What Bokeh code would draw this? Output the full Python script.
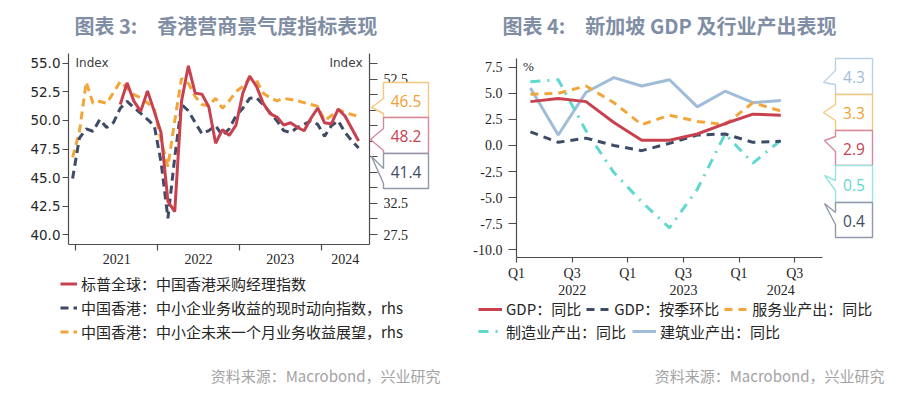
import numpy as np
from bokeh.plotting import figure
from bokeh.models import Range1d, LinearAxis, FixedTicker, PrintfTickFormatter, Legend, LegendItem
from bokeh.layouts import row, column
from bokeh.core.properties import value
from bokeh.embed import file_html
from bokeh.resources import INLINE

NAN = float("nan")

# ---------------- chart 3 data (monthly, Dec-2020 .. Jun-2024) ----------------
hk_title = "图表 3:\u3000香港营商景气度指标表现"
hk_months = (["2020-12"] + [f"{y}-{m:02d}" for y in (2021, 2022, 2023) for m in range(1, 13)]
             + [f"2024-{m:02d}" for m in range(1, 7)])
hk_pmi = [NAN, NAN, NAN, NAN, NAN, NAN, NAN,
          51.4, 53.3, 51.7, 50.8, 52.6, 50.8,
          48.9, 42.9, 42.0, 51.7, 54.8, 52.4, 52.3, 51.2, 48.0, 49.2, 48.7, 49.6,
          52.4, 53.9, 53.0, 51.5, 50.6, 50.3, 49.6, 49.8, 49.4, 49.1, 50.2, 51.1,
          49.8, 49.7, 51.0, 50.4, 49.3, 48.2]
hk_sme_current = [36.5, 43.0, 44.5, 44.1, 46.0, 44.7, 45.5, 47.8, 48.9, 47.9, 47.0, 46.0, 45.0,
                  39.1, 30.1, 39.9, 48.4, 47.4, 45.5, 43.7, 44.2, 45.0, 43.4, 44.5, 46.6,
                  47.8, 49.4, 49.5, 48.4, 47.1, 45.8, 44.2, 43.9, 44.7, 45.2, 45.8, 45.2,
                  43.3, 45.0, 45.8, 43.9, 42.6, 41.4]
hk_sme_outlook = [39.9, 44.0, 52.0, 48.6, 48.9, 48.6, 50.3, 52.1, 51.0, 50.0, 49.5, 48.7, 47.6,
                  42.6, 38.4, 45.8, 52.6, 51.8, 49.7, 48.4, 48.2, 49.4, 47.8, 49.0, 50.5,
                  51.3, 52.6, 52.3, 50.2, 49.5, 49.0, 49.4, 49.2, 49.0, 48.7, 48.4, 48.1,
                  45.8, 46.6, 47.6, 47.1, 46.8, 46.5]
hk_legend = ["标普全球：中国香港采购经理指数",
             "中国香港：中小企业务收益的现时动向指数，rhs",
             "中国香港：中小企未来一个月业务收益展望，rhs"]
hk_lhs_ticks = [40.0, 42.5, 45.0, 47.5, 50.0, 52.5, 55.0]
hk_rhs_ticks = [27.5, 30.0, 32.5, 35.0, 37.5, 40.0, 42.5, 45.0, 47.5, 50.0, 52.5, 55.0]
hk_rhs_labelled = [27.5, 32.5, 52.5]
hk_years = ["2021", "2022", "2023", "2024"]
hk_unit = "Index"

# ---------------- chart 4 data (quarterly, 2022Q1 .. 2024Q2) ----------------
sg_title = "图表 4:\u3000新加坡 GDP 及行业产出表现"
sg_quarters = ["2022Q1", "2022Q2", "2022Q3", "2022Q4", "2023Q1", "2023Q2",
               "2023Q3", "2023Q4", "2024Q1", "2024Q2"]
sg_gdp_yoy = [4.2, 4.5, 4.2, 2.2, 0.5, 0.5, 1.1, 2.1, 3.0, 2.9]
sg_gdp_qoq = [1.3, 0.3, 0.7, 0.0, -0.5, 0.2, 1.0, 1.1, 0.3, 0.4]
sg_services = [4.9, 5.0, 5.7, 4.1, 2.0, 2.9, 2.3, 2.0, 4.1, 3.3]
sg_manufacturing = [6.1, 6.3, 1.4, -2.6, -5.4, -7.9, -4.2, 1.1, -1.7, 0.5]
sg_construction = [5.5, 1.0, 5.1, 6.5, 5.7, 6.3, 3.7, 5.2, 4.1, 4.3]
sg_legend = ["GDP：同比", "GDP：按季环比", "服务业产出：同比", "制造业产出：同比", "建筑业产出：同比"]
sg_y_ticks = [-10.0, -7.5, -5.0, -2.5, 0.0, 2.5, 5.0, 7.5]
sg_half_labels = ["Q1", "Q3", "Q1", "Q3", "Q1", "Q3"]
sg_years = ["2022", "2023", "2024"]
sg_unit = "%"

source_text = "资料来源：Macrobond，兴业研究"

# ---------------- styles ----------------
RED, NAVY, ORANGE, CYAN, LBLUE = "#c8414f", "#3e4b66", "#f2a63a", "#5fd8cf", "#9fbcd9"
AXIS, TEXT, TITLE, GREY = "#4d4d4d", "#262626", "#7f8ea4", "#a3a3a3"
SERIF, SANS, CJK, NUM = "Liberation Serif", "DejaVu Sans", "Noto Sans CJK SC", "Open Sans"
W, H = 897, 398
TOP_B, BOT_B = 53, 141          # shared top / bottom borders of both charts


def style_axis(ax, font, size, tick_out, standoff):
    ax.axis_line_color = AXIS
    ax.axis_line_width = 1.2
    ax.major_tick_line_color = AXIS
    ax.major_tick_line_width = 1.2
    ax.major_tick_out = tick_out
    ax.major_tick_in = 0
    ax.minor_tick_line_color = None
    ax.major_label_standoff = standoff
    ax.major_label_text_font = font
    ax.major_label_text_font_size = size
    ax.major_label_text_color = TEXT


# ================= chart 3 (frame 68..369 x 53..244) =================
hk_x = np.arange(len(hk_months))
X3_END = 43.6
p3 = figure(width=453, height=TOP_B + 191 + BOT_B, x_range=Range1d(-0.6, X3_END),
            y_range=Range1d(39.123, 55.877),
            min_border_left=68, min_border_right=84, min_border_top=TOP_B, min_border_bottom=BOT_B,
            x_axis_type=None, y_axis_type=None, toolbar_location=None, output_backend="svg",
            outline_line_color=None, background_fill_color="white", border_fill_color="white")
p3.extra_y_ranges = {"rhs": Range1d(25.892, 56.608)}

hk_style = [dict(color=RED, dash="solid"), dict(color=NAVY, dash="8 5"), dict(color=ORANGE, dash="8 5")]
p3.line(hk_x, np.array(hk_sme_outlook), y_range_name="rhs", line_color=ORANGE,
        line_width=3, line_dash="8 5")
p3.line(hk_x, np.array(hk_sme_current), y_range_name="rhs", line_color=NAVY,
        line_width=3, line_dash="8 5")
p3.line(hk_x, np.array(hk_pmi), line_color=RED, line_width=3)

yl = LinearAxis(ticker=FixedTicker(ticks=hk_lhs_ticks), formatter=PrintfTickFormatter(format="%.1f"))
style_axis(yl, SANS, "13.5px", 6, 2)
p3.add_layout(yl, "left")

yr = LinearAxis(y_range_name="rhs", ticker=FixedTicker(ticks=hk_rhs_ticks),
                major_label_overrides={t: (f"{t:.1f}" if t in hk_rhs_labelled else "") for t in hk_rhs_ticks})
style_axis(yr, SERIF, "14px", 8, 6)
p3.add_layout(yr, "right")

year_bounds = [hk_months.index(f"{y}-01") - 0.5 for y in hk_years]
year_mid = [(a + b) / 2 for a, b in zip(year_bounds, year_bounds[1:] + [X3_END])]
xb = LinearAxis(ticker=FixedTicker(ticks=year_mid, minor_ticks=year_bounds),
                major_label_overrides=dict(zip(year_mid, hk_years)))
style_axis(xb, SERIF, "14px", 6, 3)
xb.major_tick_line_color = None
xb.minor_tick_line_color = AXIS
xb.minor_tick_line_width = 1.2
xb.minor_tick_out = 6
xb.minor_tick_in = 0
p3.add_layout(xb, "below")

# ================= chart 4 (frame 516..822 x 58..257) =================
sg_x = np.arange(len(sg_quarters))
X4_END = 10.5
P4_SHIFT = 5
p4 = figure(width=W - 453, height=TOP_B + 199 + BOT_B, x_range=Range1d(-0.5, X4_END),
            y_range=Range1d(-10.74, 8.334),
            min_border_left=63, min_border_right=75, min_border_top=TOP_B, min_border_bottom=BOT_B,
            x_axis_type=None, y_axis_type=None, toolbar_location=None, output_backend="svg",
            outline_line_color=None, background_fill_color="white", border_fill_color="white",
            margin=(P4_SHIFT, 0, 0, 0))

sg_series = [sg_gdp_yoy, sg_gdp_qoq, sg_services, sg_manufacturing, sg_construction]
sg_style = [dict(color=RED, dash="solid"), dict(color=NAVY, dash="8 6"), dict(color=ORANGE, dash="8 6"),
            dict(color=CYAN, dash="10 7 2 7"), dict(color=LBLUE, dash="solid")]
for k in (4, 3, 2, 1, 0):
    p4.line(sg_x, sg_series[k], line_color=sg_style[k]["color"], line_width=3,
            line_dash=sg_style[k]["dash"])

y4 = LinearAxis(ticker=FixedTicker(ticks=sg_y_ticks), formatter=PrintfTickFormatter(format="%.1f"))
style_axis(y4, SERIF, "14px", 8, 6)
p4.add_layout(y4, "left")

half_bounds = [i - 0.5 for i in range(0, 2 * len(sg_half_labels), 2)]
xq = LinearAxis(ticker=FixedTicker(ticks=half_bounds),
                major_label_overrides=dict(zip(half_bounds, sg_half_labels)))
style_axis(xq, SERIF, "14px", 5, 3)
p4.add_layout(xq, "below")

yb = [sg_quarters.index(f"{y}Q1") - 0.5 for y in sg_years]
y_mid = [(a + b) / 2 for a, b in zip(yb, yb[1:] + [X4_END])]
xy = LinearAxis(ticker=FixedTicker(ticks=y_mid), major_label_overrides=dict(zip(y_mid, sg_years)))
style_axis(xy, SERIF, "14px", 0, 1)
xy.axis_line_color = None
xy.major_tick_line_color = None
p4.add_layout(xy, "below")

# ================= overlay: titles, legends, notes, end-value callouts (page pixels) =================
ov = figure(width=W, height=H, x_range=Range1d(0, W), y_range=Range1d(H, 0), min_border=0,
            x_axis_type=None, y_axis_type=None, toolbar_location=None, output_backend="svg",
            outline_line_color=None, background_fill_color=None, border_fill_color=None,
            margin=(-H, 0, 0, 0))
ov.extra_y_ranges = {"key": Range1d(1e6, 2e6)}   # legend-key renderers sit outside the view

ov.text(x=[74, 502], y=[25, 25], text=[hk_title, sg_title], text_font=value(CJK),
        text_font_size="20px", text_font_style="bold", text_color=TITLE,
        text_align="left", text_baseline="middle")
ov.text(x=[440, 884], y=[375, 375], text=[source_text, source_text], text_font=value(CJK),
        text_font_size="15px", text_color=GREY, text_align="right", text_baseline="middle")
ov.text(x=[75], y=[62.5], text=[hk_unit], text_font=value(SANS), text_font_size="12px",
        text_color="#404040", text_align="left", text_baseline="middle")
ov.text(x=[362], y=[62.5], text=[hk_unit], text_font=value(SANS), text_font_size="12px",
        text_color="#404040", text_align="right", text_baseline="middle")
ov.text(x=[522.5], y=[66], text=[sg_unit], text_font=value(SERIF), text_font_size="13px",
        text_color=TEXT, text_align="left", text_baseline="middle")


def legend_keys(labels, styles, xs, series):
    items = []
    for lab, st, ys in zip(labels, styles, series):
        r = ov.line(x=xs, y=np.array(ys), y_range_name="key", line_color=st["color"],
                    line_width=3, line_dash=st["dash"])
        items.append(LegendItem(label=lab, renderers=[r]))
    return items


def add_legend(items, loc, orient, gh, gw, spacing):
    ov.add_layout(Legend(items=items, location=loc, orientation=orient, padding=0, margin=0,
                         spacing=spacing, glyph_width=gw, glyph_height=gh, label_height=gh,
                         label_standoff=4, label_text_font=CJK, label_text_font_size="15px",
                         label_text_color=TEXT, border_line_color=None, background_fill_alpha=0))


hk_items = legend_keys(hk_legend, hk_style, hk_x, [hk_pmi, hk_sme_current, hk_sme_outlook])
add_legend(hk_items, (60, 56), "vertical", 21, 17, 3)
sg_items = legend_keys(sg_legend, sg_style, sg_x, sg_series)
add_legend(sg_items[:3], (478, 79), "horizontal", 20, 24, 5)
add_legend(sg_items[3:], (478, 56.3), "horizontal", 20, 24, 6)


def callouts(left, right, specs):
    xs, ys, bc, tx, ty, tt, tc = [], [], [], [], [], [], []
    for val, tcol, bcol, top, bot, b1, b2, tipx, tipy in specs:
        xs.append([left, right, right, left, left, tipx, left])
        ys.append([top, top, bot, bot, b2, tipy, b1])
        bc.append(bcol)
        tx.append((left + right) / 2)
        ty.append((top + bot) / 2 + 0.5)
        tt.append(f"{val:.1f}")
        tc.append(tcol)
    ov.patches(xs, ys, fill_color="white", line_color=bc, line_width=1.4)
    ov.text(x=tx, y=ty, text=tt, text_color=tc, text_font=value(NUM), text_font_size="15.5px",
            text_align="center", text_baseline="middle")


callouts(383, 428, [
    (hk_sme_outlook[-1], "#f0a030", "#f5c582", 82, 117, 98, 113, 371, 107),
    (hk_pmi[-1], RED, "#d6899a", 117, 153, 128, 150, 370, 139),
    (hk_sme_current[-1], NAVY, "#9098aa", 153, 188, 168, 183, 371, 156),
])
callouts(835, 872, [
    (sg_construction[-1], LBLUE, "#bcd0e5", 58, 94, 70, 84, 823, 82),
    (sg_services[-1], "#f0a030", "#f5c582", 94, 130, 104, 120, 823, 112),
    (sg_gdp_yoy[-1], RED, "#d6899a", 130, 165, 136, 151, 824, 140),
    (sg_manufacturing[-1], CYAN, "#98e4de", 165, 202, 180, 190, 824, 175),
    (sg_gdp_qoq[-1], NAVY, "#9098aa", 202, 237, 212, 224, 824, 203),
])

layout = column(row(p3, p4), ov)
open("out.html", "w").write(file_html(layout, INLINE))
